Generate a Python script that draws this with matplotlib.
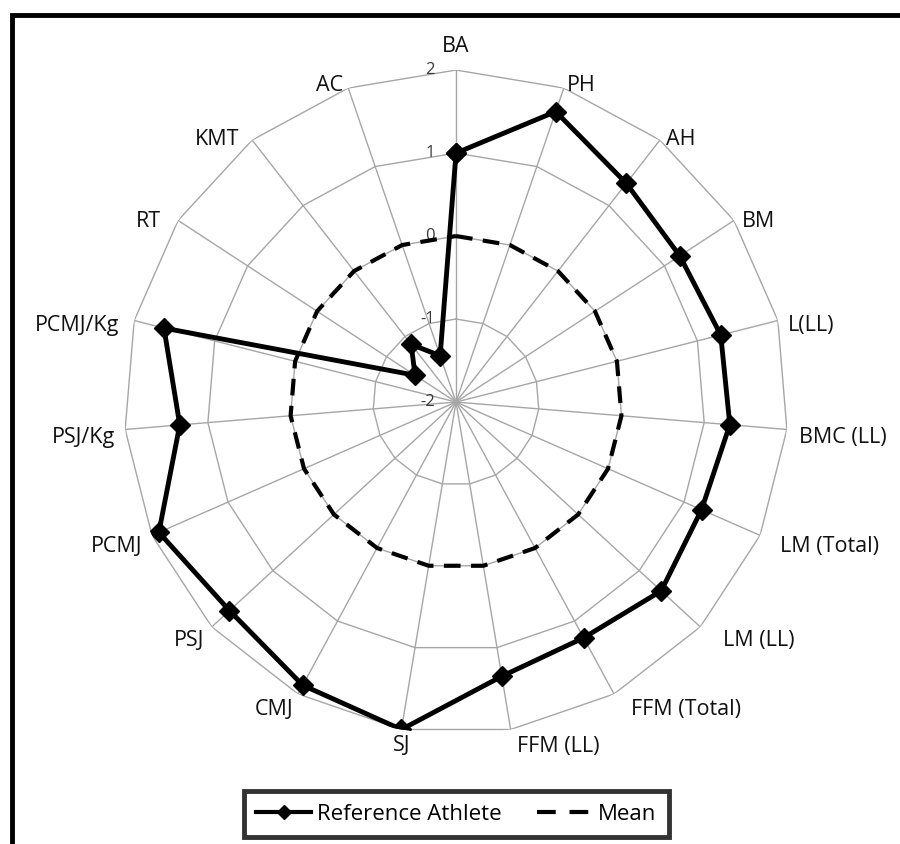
import numpy as np
import matplotlib.pyplot as plt
from matplotlib.patches import Rectangle
from matplotlib.lines import Line2D

plt.rcParams['font.family'] = ['Open Sans', 'DejaVu Sans']

categories = ['BA', 'PH', 'AH', 'BM', 'L(LL)', 'BMC (LL)', 'LM (Total)', 'LM (LL)',
              'FFM (Total)', 'FFM (LL)', 'SJ', 'CMJ', 'PSJ', 'PCMJ', 'PSJ/Kg',
              'PCMJ/Kg', 'RT', 'KMT', 'AC']
athlete = [1.0, 1.70, 1.34, 1.22, 1.29, 1.31, 1.23, 1.36, 1.23, 1.35,
           2.0, 1.88, 1.71, 1.91, 1.34, 1.63, -1.41, -1.12, -1.41]
mean = [0.0] * len(categories)
levels = [-2, -1, 0, 1, 2]

n = len(categories)
theta = np.arange(n) * 2 * np.pi / n
tc = np.append(theta, theta[0])

fig = plt.figure(figsize=(9, 8.44), dpi=100)
ax = fig.add_axes([0.1378, 0.1303, 0.7378, 0.7867], projection='polar')
ax.set_theta_zero_location('N')
ax.set_theta_direction(-1)
ax.set_ylim(-2, 2)
ax.grid(False)
ax.spines['polar'].set_visible(False)
ax.set_xticks([])
ax.set_yticks([])

# excel style polygon grid
grid_c = '#a6a6a6'
for lv in levels[1:]:
    ax.plot(tc, [lv] * (n + 1), color=grid_c, lw=1, zorder=1)
for t in theta:
    ax.plot([t, t], [-2, 2], color=grid_c, lw=1, zorder=1)

for lv in levels:
    ax.annotate(str(lv), xy=(0, lv), xytext=(-21, 0), textcoords='offset pixels',
                ha='right', va='center', fontsize=12, color='#3a3a3a')

ax.plot(tc, np.append(mean, mean[0]), color='black', lw=3, ls=(0, (4, 2.5)), zorder=3)
ax.plot(tc, np.append(athlete, athlete[0]), color='black', lw=3.5, marker='D',
        ms=10, zorder=4)

# category labels outside the outer ring
for t, lab in zip(theta, categories):
    s, c = np.sin(t), np.cos(t)
    if s > 0.1:
        gap = 10 + 30 * max(0, -c)
        ha, dx, dy = 'left', gap * s, c * 10 - 7
    elif s < -0.2:
        gap = 10 + 22 * max(0, c) * abs(s)
        ha, dx, dy = 'right', gap * s, c * 10 - 7
    else:
        ha, dx, dy = 'center', 0, c * 20 + 4
    ax.annotate(lab, xy=(t, 2), xytext=(dx, dy), textcoords='offset pixels',
                ha=ha, va='center', fontsize=15.5, color='#111111')

handles = [Line2D([], [], color='black', lw=3, marker='D', ms=7),
           Line2D([], [], color='black', lw=3, ls=(0, (4.5, 3.3)))]
leg = fig.legend(handles, ['Reference Athlete', 'Mean'], loc='center',
                 bbox_to_anchor=(0.507, 0.0355), bbox_transform=fig.transFigure,
                 ncol=2, fontsize=16, frameon=True, fancybox=False,
                 handlelength=2.5, handletextpad=0.25, columnspacing=1.6,
                 borderpad=0.55, borderaxespad=0)
leg.get_frame().set_edgecolor('black')
leg.get_frame().set_linewidth(3.5)

fig.patches.append(Rectangle((0.0133, -0.05), 1.2, 0.982 + 0.05, fill=False,
                             edgecolor='black', lw=3.5, transform=fig.transFigure))

fig.savefig('out.png', dpi=100)
